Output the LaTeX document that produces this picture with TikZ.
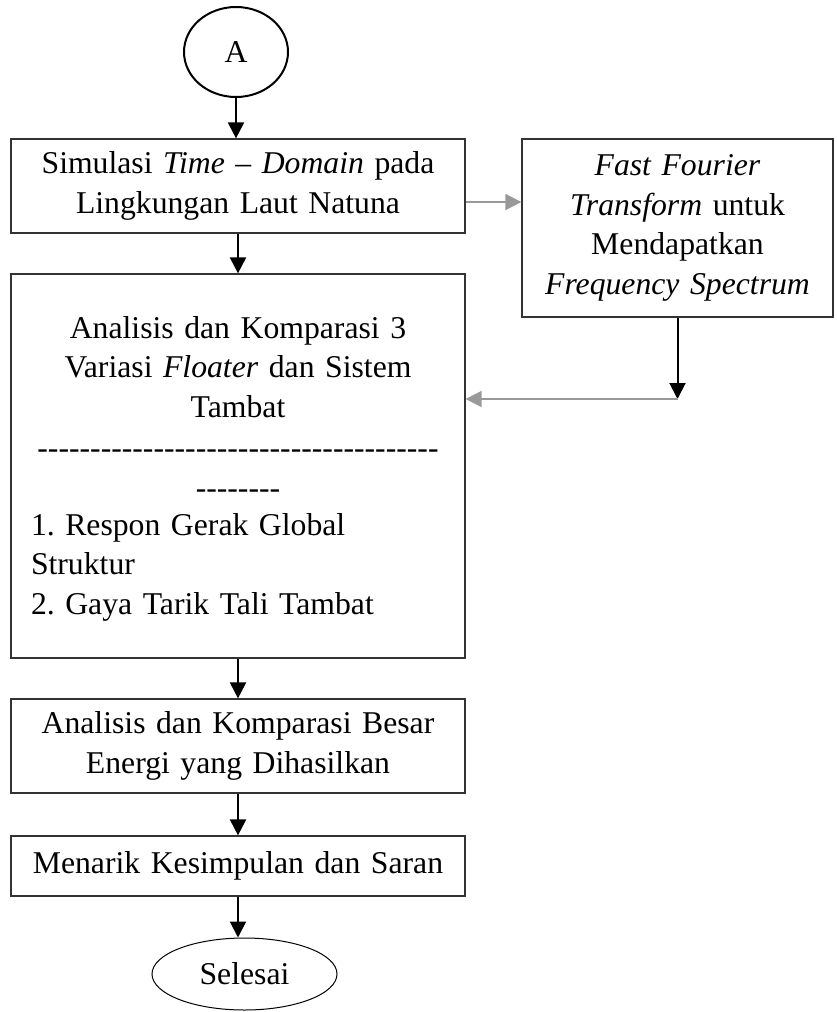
\documentclass[tikz,border=0pt]{standalone}
\usepackage{fontspec}
\setmainfont{Liberation Serif}
\usetikzlibrary{shapes.geometric,arrows.meta}

\newcommand{\hyrow}[1]{\ifnum#1>0 \mbox{-}\expandafter\hyrow\expandafter{\the\numexpr#1-1\relax}\fi}

\begin{document}
\frenchspacing
\begin{tikzpicture}[x=1pt, y=-1pt, >={Triangle[length=16pt,width=16pt]},
    every node/.style={font=\fontsize{31.7}{39.5}\selectfont},
    box/.style={draw=black!80, line width=1.2pt, minimum width=454pt, inner xsep=20pt, text width=414pt},
    isi/.style={anchor=base, inner sep=0pt, text width=414pt},
    arr/.style={->, line width=2pt},
    garr/.style={->, line width=1.6pt, draw=black!40}]
  \useasboundingbox (0,0) rectangle (836,1012);

  % 1. start, steps and end
  \node[ellipse, draw, line width=2pt, minimum width=104pt, minimum height=90pt, inner sep=0pt] (A) at (236,52) {A};
  \node[box, minimum height=94pt] (sim) at (238,186) {\centering Simulasi \textit{Time} – \textit{Domain} pada\\ Lingkungan Laut Natuna\par};
  \node[box, minimum width=311pt, minimum height=178pt, inner xsep=12pt, text width=287pt] (fft) at (677.5,228)
    {\centering \textit{Fast Fourier}\\ \textit{Transform} untuk\\ Mendapatkan\\ \textit{Frequency Spectrum}\par};
  \node[box, minimum height=384pt] (analisis) at (238,466) {};
  \node[isi] (judul) at (238,338) {\centering Analisis dan Komparasi 3\\ Variasi \textit{Floater} dan Sistem\\ Tambat\par};
  \node[isi] (garis) at (238,458) {\centering\hyrow{38}\par};
  \node[isi] (garisb) at (238,498) {\centering\hyrow{8}\par};
  \node[isi] (daftar) at (238,535) {\raggedright 1. Respon Gerak Global\\ Struktur\\ 2. Gaya Tarik Tali Tambat\par};
  \node[box, minimum height=94pt] (energi) at (238,746) {\centering Analisis dan Komparasi Besar\\ Energi yang Dihasilkan\par};
  \node[box, minimum height=60pt] (simpulan) at (238,866) {\centering Menarik Kesimpulan dan Saran\par};
  \node[ellipse, draw, line width=1pt, minimum width=185pt, minimum height=72pt, inner sep=0pt] (selesai) at (244.5,974) {Selesai};

  % 2. connectors
  \coordinate (bend) at (677.5,399);
  \draw[arr] (A.south) -- (A.south |- sim.north);
  \draw[arr] (sim.south) -- (analisis.north);
  \draw[garr] ([yshift=-16pt]sim.east) -- ([yshift=-16pt]sim.east -| fft.west);
  \draw[arr] (fft.south) -- (bend);
  \draw[garr] (bend) -- (bend -| analisis.east);
  \draw[arr] (analisis.south) -- (energi.north);
  \draw[arr] (energi.south) -- (simpulan.north);
  \draw[arr] (simpulan.south) -- (simpulan.south |- selesai.north);
\end{tikzpicture}
\end{document}
